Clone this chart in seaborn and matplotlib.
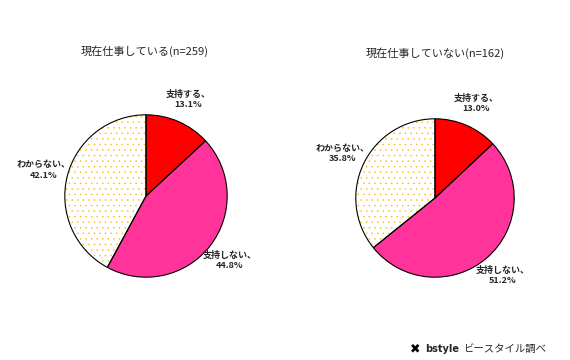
"""
Pie charts: support by current employment status.
"""
import matplotlib
matplotlib.use("Agg")
import matplotlib.pyplot as plt
import seaborn as sns

# ── Data ──────────────────────────────────────────────────────────────
categories = ["支持する", "支持しない", "わからない"]
working_values = [13.1, 44.8, 42.1]
not_working_values = [13.0, 51.2, 35.8]
titles = ["現在仕事している(n=259)", "現在仕事していない(n=162)"]
colors = ["#FF0000", "#FF3399", "#FFFFFF"]

sns.set_theme(style="white")
plt.rcParams["font.family"] = ["Noto Sans CJK JP", "DejaVu Sans"]
plt.rcParams["hatch.linewidth"] = 0.3

W, H = 570, 360
fig = plt.figure(figsize=(W / 100, H / 100), dpi=100)
fig.patch.set_facecolor("white")

# pie centres / radii in pixels
layout = [(146, 196, 82, 145, 51), (435, 198, 80, 435, 53)]

for values, title, (cx, cy, r, tx, ty) in zip([working_values, not_working_values], titles, layout):
    ax = fig.add_axes([(cx - r) / W, 1 - (cy + r) / H, 2 * r / W, 2 * r / H])
    labels = [f"{c}、\n{v:.1f}%" for c, v in zip(categories, values)]

    # filled wedges (dotted one gets an orange hatch)
    wedges, texts = ax.pie(values, colors=colors, startangle=90, counterclock=False,
                           labels=labels, labeldistance=1.3,
                           wedgeprops=dict(linewidth=0),
                           textprops=dict(fontsize=6.5, fontweight="bold", ha="center"))
    wedges[2].set_hatch("...")
    wedges[2].set_edgecolor("#FFB400")
    # black outlines on top
    ax.pie(values, colors=["none"] * 3, startangle=90, counterclock=False,
           wedgeprops=dict(linewidth=0.8, edgecolor="black", fill=False))
    for t in texts:
        t.set_va("center")
    ax.set_xlim(-1.01, 1.01)
    ax.set_ylim(-1.01, 1.01)
    ax.set_aspect("auto")
    ax.axis("off")

    fig.text(tx / W, 1 - ty / H, title, ha="center", va="center", fontsize=8)

# source line
fig.text(410 / W, 1 - 349 / H, "✖", ha="left", va="center", fontsize=9,
         family="DejaVu Sans", color="black")
fig.text(425 / W, 1 - 349 / H, "bstyle", ha="left", va="center", fontsize=7,
         fontweight="bold", family="DejaVu Sans")
fig.text(463 / W, 1 - 349 / H, "ビースタイル調べ", ha="left", va="center", fontsize=7.5)

plt.savefig("out.png", dpi=100)
plt.close()
